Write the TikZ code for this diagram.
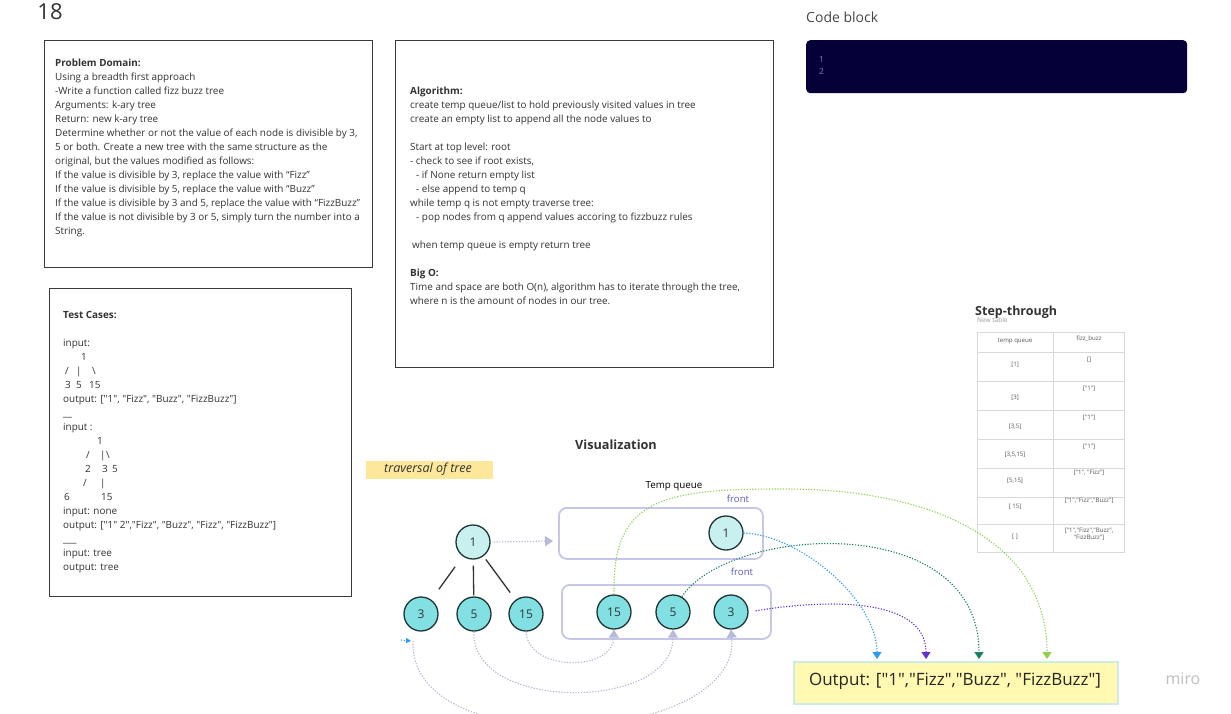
\documentclass[tikz,border=0pt]{standalone}
\usepackage{fontspec}
\setmainfont{Open Sans}[Ligatures=TeXOff]
\usetikzlibrary{arrows.meta}
\definecolor{txtgray}{HTML}{333333}
\definecolor{cardline}{HTML}{3A3A3A}
\definecolor{cyanlight}{HTML}{C8F0EF}
\definecolor{cyandark}{HTML}{82E0E2}
\definecolor{nodeline}{HTML}{1E3435}
\definecolor{lav}{HTML}{C5C6E8}
\definecolor{lavdot}{HTML}{B3B5D3}
\definecolor{lavtip}{HTML}{B8BAD9}
\definecolor{fronttxt}{HTML}{5A5AB8}
\definecolor{mblue}{HTML}{2D9BF0}
\definecolor{mpurple}{HTML}{6631D7}
\definecolor{mteal}{HTML}{168063}
\definecolor{mgreen}{HTML}{8FD14F}
\definecolor{outfill}{HTML}{FFF9B1}
\definecolor{outline}{HTML}{CDEBE6}
\definecolor{travfill}{HTML}{FCE79A}
\definecolor{codefill}{HTML}{050038}
\definecolor{codenum}{HTML}{7E7EA8}
\definecolor{tabline}{HTML}{D9D9D9}
\definecolor{tabtxt}{HTML}{555555}
\newcommand\ind[1]{\hspace*{#1pt}}
\newcommand\putat[2]{\makebox[0pt][l]{\hspace*{#1pt}#2}}
\tikzset{
  txt/.style={inner sep=0pt, anchor=north west, align=left, text=txtgray,
    font=\fontsize{9.9}{14}\selectfont},
  card/.style={draw=cardline, line width=1.3pt, fill=white, inner sep=0pt, anchor=north west},
  tnode/.style={circle, draw=nodeline, line width=1.3pt, minimum size=34pt, inner sep=0pt,
    font=\fontsize{12}{14}\selectfont, text=txtgray},
  lightnode/.style={tnode, fill=cyanlight},
  darknode/.style={tnode, fill=cyandark},
  qbox/.style={draw=lav, line width=1.8pt, rounded corners=8pt, inner sep=0pt, anchor=north west},
  edge/.style={draw=txtgray, line width=1.3pt},
  dotline/.style={line width=1.1pt, dash pattern=on 1.2pt off 1.6pt},
  lavarrow/.style={dotline, draw=lavdot, -{Triangle[width=10pt,length=8pt,color=lavtip]}},
  outarrow/.style={dotline, -{Triangle[width=9pt,length=7pt]}},
  cell/.style={inner sep=0pt, text=tabtxt, font=\fontsize{6.1}{7.5}\selectfont, align=center},
  front/.style={inner sep=0pt, text=fronttxt, font=\fontsize{9.6}{11}\selectfont},
}
\begin{document}
\begin{tikzpicture}[x=1pt, y=-1pt]
\useasboundingbox (0,0) rectangle (1231,713);
\fill[white] (0,0) rectangle (1231,713);
\begin{scope}
\clip (0,0) rectangle (1231,713);

% page number
\node[inner sep=0pt, text=txtgray, font=\fontsize{22}{24}\selectfont] (num) at (50,12) {18};

% Problem domain card
\node[card, minimum width=328pt, minimum height=227pt] (pdbox) at (44,40) {};
\node[txt] (pd) at (55,58.5) {\textbf{Problem Domain:}\\
Using a breadth first approach\\
-Write a function called fizz buzz tree\\
Arguments: k-ary tree\\
Return: new k-ary tree\\
Determine whether or not the value of each node is divisible by 3,\\
5 or both. Create a new tree with the same structure as the\\
original, but the values modified as follows:\\
If the value is divisible by 3, replace the value with “Fizz”\\
If the value is divisible by 5, replace the value with “Buzz”\\
If the value is divisible by 3 and 5, replace the value with “FizzBuzz”\\
If the value is not divisible by 3 or 5, simply turn the number into a\\
String.};

% Algorithm card
\node[card, minimum width=378pt, minimum height=327pt] (algbox) at (395,40) {};
\node[txt] (alg) at (410,87) {\textbf{Algorithm:}\\
create temp queue/list to hold previously visited values in tree\\
create an empty list to append all the node values to\\
\mbox{}\\
Start at top level: root\\
- check to see if root exists,\\
\ind{6}- if None return empty list\\
\ind{6}- else append to temp q\\
while temp q is not empty traverse tree:\\
\ind{6}- pop nodes from q append values accoring to fizzbuzz rules\\
\mbox{}\\
\ind{2}when temp queue is empty return tree\\
\mbox{}\\
\textbf{Big O:}\\
Time and space are both O(n), algorithm has to iterate through the tree,\\
where n is the amount of nodes in our tree.};

% Test cases card
\node[card, minimum width=302pt, minimum height=308pt] (tcbox) at (49,288) {};
\node[txt] (tc) at (63,311.5) {\textbf{Test Cases:}\\
\mbox{}\\
input:\\
\putat{18}{1}\mbox{}\\
\putat{2}{/}\putat{13}{|}\putat{29}{\textbackslash}\mbox{}\\
\putat{2}{3}\putat{13}{5}\putat{26}{15}\mbox{}\\
output: ["1", "Fizz", "Buzz", "FizzBuzz"]\\
\_\_\\
input :\\
\putat{34}{1}\mbox{}\\
\putat{23}{/}\putat{37}{|}\putat{43}{\textbackslash}\mbox{}\\
\putat{22}{2}\putat{39}{3}\putat{49}{5}\mbox{}\\
\putat{20}{/}\putat{37}{|}\mbox{}\\
\putat{1}{6}\putat{38}{15}\mbox{}\\
input: none\\
output: ["1" 2","Fizz", "Buzz", "Fizz", "FizzBuzz"]\\
\_\_\_\\
input: tree\\
output: tree};

% Code block
\node[inner sep=0pt, anchor=west, text=txtgray!90, font=\fontsize{14}{16}\selectfont] (cbl) at (806,17) {Code block};
\node[fill=codefill, rounded corners=4pt, minimum width=381pt, minimum height=53pt, inner sep=0pt, anchor=north west] (code) at (806,40) {};
\node[inner sep=0pt, anchor=west, text=codenum, font=\fontsize{8.5}{10}\selectfont] (cn1) at (819,59) {1};
\node[inner sep=0pt, anchor=west, text=codenum, font=\fontsize{8.5}{10}\selectfont] (cn2) at (819,71) {2};

% Step-through table
\node[inner sep=0pt, anchor=west, text=tabtxt!60, font=\fontsize{6.5}{7}\selectfont] (nt) at (977,320) {New table};
\node[inner sep=0pt, anchor=west, text=txtgray, font=\bfseries\fontsize{12.5}{14}\selectfont] (st) at (975,312) {Step-through};
\draw[tabline, line width=1pt] (977,332) rectangle (1124,552);
\draw[tabline, line width=1pt] (1053,332) -- (1053,552);
\foreach \yy in {352,381,410,439,468,497,524}{
  \draw[tabline, line width=1pt] (977,\yy) -- (1124,\yy);
}
\node[cell] (h1) at (1015,341) {temp queue};
\node[cell] (h2) at (1089,339) {fizz\_buzz};
\node[cell] (l1) at (1015,365) {[1]};
\node[cell] (r1) at (1089,360) {[]};
\node[cell] (l2) at (1015,398) {[3]};
\node[cell] (r2) at (1089,389) {["1"]};
\node[cell] (l3) at (1015,427) {[3,5]};
\node[cell] (r3) at (1089,418) {["1"]};
\node[cell] (l4) at (1015,455) {[3,5,15]};
\node[cell] (r4) at (1089,447) {["1"]};
\node[cell] (l5) at (1015,481) {[5,15]};
\node[cell] (r5) at (1089,473) {["1", "Fizz"]};
\node[cell] (l6) at (1015,507) {[ 15]};
\node[cell] (r6) at (1089,501) {["1","Fizz","Buzz"]};
\node[cell] (l7) at (1015,537) {[ ]};
\node[cell] (r7) at (1089,534) {["1","Fizz","Buzz",\\ "FizzBuzz"]};

% Visualization
\node[inner sep=0pt, text=txtgray, font=\bfseries\fontsize{12.7}{14}\selectfont] (vis) at (616,445) {Visualization};
\node[fill=travfill, minimum width=127pt, minimum height=18pt, inner sep=0pt, anchor=north west] (travbox) at (366,461) {};
\node[inner sep=0pt, text=txtgray, font=\itshape\fontsize{12.5}{14}\selectfont] (trav) at (428,469) {traversal of tree};
\node[inner sep=0pt, text=black, font=\fontsize{9.8}{11}\selectfont] (tq) at (674,486) {Temp queue};
\node[front] (f1) at (738,499) {front};
\node[front] (f2) at (742,572) {front};

% queue boxes
\node[qbox, minimum width=204pt, minimum height=51pt] (qa) at (558,507) {};
\node[qbox, minimum width=209pt, minimum height=54pt] (qb) at (561,584) {};

% tree
\node[lightnode] (root) at (473,542) {1};
\node[darknode] (c3) at (421,614) {3};
\node[darknode] (c5) at (474,614) {5};
\node[darknode] (c15) at (526,614) {15};
\draw[edge, shorten <=13pt, shorten >=13pt] (root) -- (c3);
\draw[edge, shorten <=6pt, shorten >=1pt] (root) -- (c5);
\draw[edge, shorten <=4pt, shorten >=9pt] (root) -- (c15);

% queue nodes
\node[lightnode] (q1) at (726,533) {1};
\node[darknode] (q15) at (614,612) {15};
\node[darknode] (q5) at (673,612) {5};
\node[darknode] (q3) at (731,612) {3};

% root to queue
\coordinate (qin) at (553,541);
\draw[lavarrow] ([xshift=3pt]root.east) -- (qin);

% tree nodes into queue
\coordinate (s3) at (413,641);
\draw[lavarrow] (c15.south) .. controls (528,672) and (613,672) .. (q15.south);
\draw[lavarrow] (c5.south) .. controls (470,712) and (673,712) .. (q5.south);
\draw[lavarrow] (s3) .. controls (408,765) and (742,745) .. (q3.south);

% tiny blue arrow
\coordinate (b1) at (401,640);
\coordinate (b2) at (411,641);
\draw[dotline, draw=mblue, -{Triangle[width=5pt,length=5pt]}] (b1) -- (b2);

% output
\node[fill=outfill, draw=outline, line width=2pt, minimum width=324pt, minimum height=42pt, inner sep=0pt, anchor=north west] (outbox) at (793,661) {};
\node[inner sep=0pt, text=black!85, font=\fontsize{17}{20}\selectfont] (out) at (955,681) {Output: ["1","Fizz","Buzz", "FizzBuzz"]};

\coordinate (t1) at (877,659);
\coordinate (t2) at (926,659);
\coordinate (t3) at (979,659);
\coordinate (t4) at (1047,659);
\draw[outarrow, draw=mblue, color=mblue] (q1.east) .. controls (800,535) and (877,600) .. (t1);
\draw[outarrow, draw=mpurple, color=mpurple, shorten <=7pt] (q3.east) .. controls (820,600) and (926,595) .. (t2);
\draw[outarrow, draw=mteal, color=mteal] (q5.60) .. controls (730,525) and (979,510) .. (t3);
\draw[outarrow, draw=mgreen, color=mgreen] (q15.north) .. controls (612,500) and (660,489) .. (780,489) .. controls (940,488) and (1047,545) .. (t4);

% watermark
\node[inner sep=0pt, text=black!25, font=\fontsize{16}{18}\selectfont] (miro) at (1183,679) {miro};
\end{scope}
\end{tikzpicture}
\end{document}
